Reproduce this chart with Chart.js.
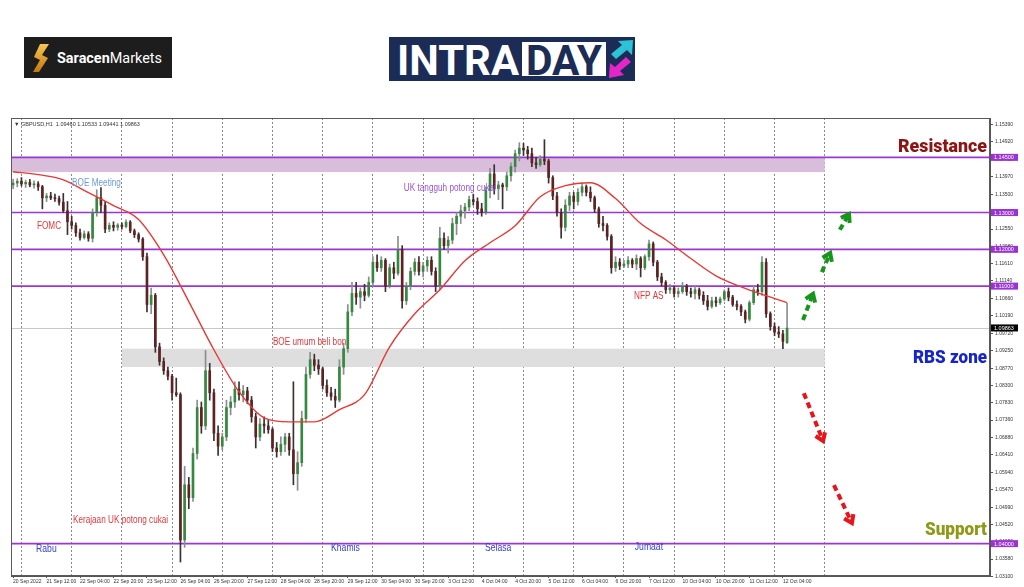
<!DOCTYPE html>
<html>
<head>
<meta charset="utf-8">
<title>GBPUSD H1 - Intraday</title>
<script src="https://cdn.jsdelivr.net/npm/chart.js@4.4.0/dist/chart.umd.min.js"></script>
<style>
    html, body { margin: 0; padding: 0; background: #fff; width: 1024px; height: 587px; overflow: hidden; }
    #wrap { position: relative; width: 1024px; height: 587px; }
    #chart { position: absolute; left: 0; top: 0; }
    .logo { position: absolute; }
</style>
</head>
<body>
<div id="wrap">
    <canvas id="chart" width="1024" height="587"></canvas>

    <!-- Saracen Markets logo -->
    <svg class="logo" style="left:24px;top:37px" width="148" height="41" viewBox="0 0 148 41">
        <defs>
            <linearGradient id="gold" x1="0" y1="0" x2="0" y2="1">
                <stop offset="0" stop-color="#f7c650"/>
                <stop offset="1" stop-color="#c27812"/>
            </linearGradient>
        </defs>
        <rect width="148" height="41" fill="#1d1d1d"/>
        <path d="M16 7 H25 L18 18 L24 21 L15 35 H9 L16 23 L10 20 Z" fill="url(#gold)"/>
        <text x="33" y="25.5" font-family="Roboto, 'Liberation Sans', sans-serif" font-size="14" fill="#fff"
              textLength="105" lengthAdjust="spacingAndGlyphs"><tspan font-weight="bold">Saracen</tspan><tspan>Markets</tspan></text>
    </svg>

    <!-- INTRADAY logo -->
    <svg class="logo" style="left:389px;top:37px" width="246" height="44" viewBox="0 0 246 44">
        <rect width="246" height="44" fill="#1b2c57"/>
        <text x="8" y="38" font-family="'Liberation Sans Narrow', Roboto, 'Liberation Sans', sans-serif" font-weight="bold"
              font-size="42" fill="#fff" textLength="122" lengthAdjust="spacingAndGlyphs">INTRA</text>
        <rect x="133" y="5" width="84" height="34" fill="#fff"/>
        <text x="137" y="38" font-family="'Liberation Sans Narrow', Roboto, 'Liberation Sans', sans-serif" font-weight="bold"
              font-size="42" fill="#1b2c57" textLength="76" lengthAdjust="spacingAndGlyphs">DAY</text>
        <polygon points="222,17 233,8 229,4 244,3 243,18 238,13 227,22" fill="#2cc3d6"/>
        <polygon points="242,25 231,34 235,38 220,41 221,26 226,30 237,20" fill="#e426c8"/>
    </svg>
</div>

<script>
// ---- Chart values (2-hour candles, GBPUSD, 20 Sep - 12 Oct 2022) ----
const opens = [
    1.1375, 1.1380, 1.1385, 1.1378, 1.1382, 1.1375, 1.1378, 1.1370, 1.1340, 1.1345,
    1.1340, 1.1338, 1.1328, 1.1305, 1.1275, 1.1265, 1.1245, 1.1232, 1.1242, 1.1230,
    1.1300, 1.1340, 1.1320, 1.1255, 1.1265, 1.1260, 1.1266, 1.1262, 1.1274, 1.1250,
    1.1240, 1.1228, 1.1180, 1.1050, 1.1075, 1.0935, 1.0895, 1.0870, 1.0855, 1.0810,
    1.0805, 1.0410, 1.0560, 1.0525, 1.0645, 1.0770, 1.0720, 1.0870, 1.0810, 1.0700,
    1.0665, 1.0690, 1.0770, 1.0785, 1.0820, 1.0805, 1.0815, 1.0790, 1.0745, 1.0690,
    1.0725, 1.0720, 1.0710, 1.0660, 1.0650, 1.0670, 1.0690, 1.0655, 1.0590, 1.0620,
    1.0740, 1.0860, 1.0900, 1.0885, 1.0875, 1.0830, 1.0810, 1.0800, 1.0790, 1.0880,
    1.0930, 1.1030, 1.1080, 1.1070, 1.1085, 1.1075, 1.1110, 1.1165, 1.1150, 1.1170,
    1.1100, 1.1150, 1.1135, 1.1200, 1.1060, 1.1100, 1.1140, 1.1165, 1.1140, 1.1155,
    1.1170, 1.1140, 1.1100, 1.1230, 1.1210, 1.1225, 1.1270, 1.1290, 1.1305, 1.1315,
    1.1335, 1.1330, 1.1310, 1.1300, 1.1360, 1.1405, 1.1365, 1.1375, 1.1370, 1.1400,
    1.1425, 1.1460, 1.1475, 1.1470, 1.1460, 1.1435, 1.1430, 1.1445, 1.1440, 1.1395,
    1.1345, 1.1300, 1.1260, 1.1320, 1.1345, 1.1330, 1.1355, 1.1370, 1.1355, 1.1340,
    1.1310, 1.1270, 1.1265, 1.1235, 1.1150, 1.1165, 1.1155, 1.1160, 1.1170, 1.1160,
    1.1175, 1.1150, 1.1180, 1.1215, 1.1165, 1.1125, 1.1110, 1.1090, 1.1095, 1.1080,
    1.1085, 1.1100, 1.1085, 1.1080, 1.1090, 1.1075, 1.1060, 1.1045, 1.1060, 1.1055,
    1.1065, 1.1085, 1.1070, 1.1050, 1.1045, 1.1030, 1.1010, 1.1055, 1.1090, 1.1085,
    1.1165, 1.1025, 1.0990, 1.0975, 1.0970, 1.0946
];
const highs = [
    1.1390, 1.1392, 1.1395, 1.1388, 1.1390, 1.1386, 1.1384, 1.1374, 1.1352, 1.1355,
    1.1350, 1.1345, 1.1352, 1.1330, 1.1290, 1.1272, 1.1255, 1.1250, 1.1248, 1.1310,
    1.1362, 1.1368, 1.1330, 1.1272, 1.1275, 1.1270, 1.1272, 1.1280, 1.1278, 1.1255,
    1.1245, 1.1232, 1.1190, 1.1095, 1.1080, 1.0945, 1.0905, 1.0880, 1.0860, 1.0850,
    1.0810, 1.0610, 1.0580, 1.0660, 1.0790, 1.0785, 1.0925, 1.0890, 1.0820, 1.0720,
    1.0700, 1.0790, 1.0800, 1.0840, 1.0840, 1.0830, 1.0825, 1.0800, 1.0755, 1.0740,
    1.0745, 1.0735, 1.0715, 1.0675, 1.0690, 1.0700, 1.0700, 1.0840, 1.0650, 1.0760,
    1.0880, 1.0920, 1.0915, 1.0900, 1.0880, 1.0845, 1.0825, 1.0820, 1.0900, 1.0945,
    1.1050, 1.1110, 1.1110, 1.1095, 1.1105, 1.1125, 1.1180, 1.1185, 1.1180, 1.1175,
    1.1160, 1.1165, 1.1235, 1.1210, 1.1110, 1.1150, 1.1175, 1.1180, 1.1165, 1.1180,
    1.1180, 1.1150, 1.1260, 1.1245, 1.1235, 1.1285, 1.1300, 1.1320, 1.1325, 1.1345,
    1.1350, 1.1340, 1.1325, 1.1370, 1.1420, 1.1430, 1.1385, 1.1380, 1.1410, 1.1435,
    1.1470, 1.1490, 1.1488, 1.1480, 1.1475, 1.1450, 1.1455, 1.1498, 1.1445, 1.1400,
    1.1355, 1.1310, 1.1335, 1.1355, 1.1355, 1.1365, 1.1380, 1.1375, 1.1370, 1.1345,
    1.1315, 1.1290, 1.1270, 1.1240, 1.1180, 1.1175, 1.1170, 1.1180, 1.1175, 1.1185,
    1.1180, 1.1185, 1.1225, 1.1220, 1.1170, 1.1135, 1.1115, 1.1105, 1.1100, 1.1095,
    1.1110, 1.1105, 1.1095, 1.1100, 1.1095, 1.1085, 1.1075, 1.1070, 1.1070, 1.1070,
    1.1090, 1.1095, 1.1075, 1.1060, 1.1050, 1.1035, 1.1060, 1.1100, 1.1105, 1.1180,
    1.1175, 1.1030, 1.1000, 1.0990, 1.0980, 1.1053
];
const lows = [
    1.1365, 1.1370, 1.1372, 1.1368, 1.1370, 1.1366, 1.1360, 1.1310, 1.1330, 1.1335,
    1.1330, 1.1320, 1.1300, 1.1240, 1.1255, 1.1235, 1.1225, 1.1228, 1.1222, 1.1220,
    1.1290, 1.1300, 1.1245, 1.1248, 1.1250, 1.1252, 1.1255, 1.1258, 1.1245, 1.1232,
    1.1220, 1.1170, 1.1030, 1.1025, 1.0920, 1.0885, 1.0860, 1.0845, 1.0790, 1.0800,
    1.0350, 1.0390, 1.0495, 1.0515, 1.0630, 1.0700, 1.0710, 1.0790, 1.0680, 1.0640,
    1.0655, 1.0680, 1.0750, 1.0770, 1.0790, 1.0785, 1.0780, 1.0730, 1.0660, 1.0680,
    1.0700, 1.0700, 1.0650, 1.0635, 1.0640, 1.0650, 1.0640, 1.0560, 1.0545, 1.0610,
    1.0730, 1.0850, 1.0870, 1.0860, 1.0820, 1.0800, 1.0790, 1.0770, 1.0785, 1.0860,
    1.0920, 1.1020, 1.1050, 1.1040, 1.1060, 1.1070, 1.1100, 1.1140, 1.1140, 1.1085,
    1.1095, 1.1120, 1.1130, 1.1040, 1.1050, 1.1090, 1.1130, 1.1130, 1.1125, 1.1140,
    1.1130, 1.1085, 1.1090, 1.1200, 1.1190, 1.1215, 1.1240, 1.1270, 1.1285, 1.1305,
    1.1320, 1.1295, 1.1290, 1.1295, 1.1340, 1.1350, 1.1335, 1.1310, 1.1360, 1.1385,
    1.1410, 1.1440, 1.1455, 1.1445, 1.1425, 1.1420, 1.1425, 1.1430, 1.1380, 1.1335,
    1.1290, 1.1230, 1.1250, 1.1305, 1.1310, 1.1320, 1.1345, 1.1345, 1.1330, 1.1300,
    1.1260, 1.1250, 1.1225, 1.1135, 1.1140, 1.1145, 1.1150, 1.1150, 1.1150, 1.1145,
    1.1125, 1.1145, 1.1170, 1.1155, 1.1115, 1.1100, 1.1080, 1.1080, 1.1070, 1.1070,
    1.1080, 1.1075, 1.1070, 1.1065, 1.1065, 1.1050, 1.1035, 1.1040, 1.1045, 1.1050,
    1.1060, 1.1060, 1.1045, 1.1035, 1.1020, 1.1000, 1.1005, 1.1050, 1.1075, 1.1075,
    1.1015, 1.0980, 1.0965, 1.0960, 1.0930, 1.0944
];
const closes = [
    1.1380, 1.1385, 1.1378, 1.1382, 1.1375, 1.1378, 1.1370, 1.1340, 1.1345, 1.1340,
    1.1338, 1.1328, 1.1305, 1.1275, 1.1265, 1.1245, 1.1232, 1.1242, 1.1230, 1.1300,
    1.1340, 1.1320, 1.1255, 1.1265, 1.1260, 1.1266, 1.1262, 1.1274, 1.1250, 1.1240,
    1.1228, 1.1180, 1.1050, 1.1075, 1.0935, 1.0895, 1.0870, 1.0855, 1.0810, 1.0805,
    1.0410, 1.0560, 1.0525, 1.0645, 1.0770, 1.0720, 1.0870, 1.0810, 1.0700, 1.0665,
    1.0690, 1.0770, 1.0785, 1.0820, 1.0805, 1.0815, 1.0790, 1.0745, 1.0690, 1.0725,
    1.0720, 1.0710, 1.0660, 1.0650, 1.0670, 1.0690, 1.0655, 1.0590, 1.0620, 1.0740,
    1.0860, 1.0900, 1.0885, 1.0875, 1.0830, 1.0810, 1.0800, 1.0790, 1.0880, 1.0930,
    1.1030, 1.1080, 1.1070, 1.1085, 1.1075, 1.1110, 1.1165, 1.1150, 1.1170, 1.1100,
    1.1150, 1.1135, 1.1200, 1.1060, 1.1100, 1.1140, 1.1165, 1.1140, 1.1155, 1.1170,
    1.1140, 1.1100, 1.1230, 1.1210, 1.1225, 1.1270, 1.1290, 1.1305, 1.1315, 1.1335,
    1.1330, 1.1310, 1.1300, 1.1360, 1.1405, 1.1365, 1.1375, 1.1370, 1.1400, 1.1425,
    1.1460, 1.1475, 1.1470, 1.1460, 1.1435, 1.1430, 1.1445, 1.1440, 1.1395, 1.1345,
    1.1300, 1.1260, 1.1320, 1.1345, 1.1330, 1.1355, 1.1370, 1.1355, 1.1340, 1.1310,
    1.1270, 1.1265, 1.1235, 1.1150, 1.1165, 1.1155, 1.1160, 1.1170, 1.1160, 1.1175,
    1.1150, 1.1180, 1.1215, 1.1165, 1.1125, 1.1110, 1.1090, 1.1095, 1.1080, 1.1085,
    1.1100, 1.1085, 1.1080, 1.1090, 1.1075, 1.1060, 1.1045, 1.1060, 1.1055, 1.1065,
    1.1085, 1.1070, 1.1050, 1.1045, 1.1030, 1.1010, 1.1055, 1.1090, 1.1085, 1.1165,
    1.1025, 1.0990, 1.0975, 1.0970, 1.0950, 1.0986
];

// moving average (red line), read every 6 bars
const maBars = [0, 6, 12, 18, 24, 30, 36, 42, 48, 54, 60, 66, 72, 78, 84, 90,
    96, 102, 108, 114, 120, 126, 132, 138, 144, 150, 156, 162, 168, 174, 180, 185];
const maValues = [1.1411, 1.1403, 1.1389, 1.1354, 1.1319, 1.1281, 1.1185, 1.1058,
    1.0927, 1.0813, 1.0742, 1.0731, 1.0731, 1.0764, 1.0805, 1.0935,
    1.1025, 1.1090, 1.1169, 1.1218, 1.1264, 1.1343, 1.1373, 1.1381,
    1.1338, 1.1270, 1.1226, 1.1175, 1.1128, 1.1098, 1.1074, 1.1055];

// x axis labels, one every 16 hours
const timeLabels = ['20 Sep 2022', '21 Sep 12:00', '22 Sep 04:00', '22 Sep 20:00', '23 Sep 12:00',
    '26 Sep 04:00', '26 Sep 20:00', '27 Sep 12:00', '28 Sep 04:00', '28 Sep 20:00', '29 Sep 12:00',
    '30 Sep 04:00', '30 Sep 20:00', '3 Oct 12:00', '4 Oct 04:00', '4 Oct 20:00', '5 Oct 12:00',
    '6 Oct 04:00', '6 Oct 20:00', '7 Oct 12:00', '10 Oct 04:00', '10 Oct 20:00', '11 Oct 12:00',
    '12 Oct 04:00'];

// price axis ticks
const priceTicks = [1.15390, 1.14920, 1.14450, 1.13970, 1.13500, 1.13030, 1.12550, 1.12080,
    1.11610, 1.11140, 1.10660, 1.10190, 1.09720, 1.09250, 1.08770, 1.08300, 1.07830, 1.07360,
    1.06880, 1.06410, 1.05940, 1.05470, 1.04990, 1.04520, 1.04050, 1.03580, 1.03100];

// drawn levels and zones
const levelPrices = [1.1450, 1.1300, 1.1200, 1.1100, 1.0400];
const lastPrice = 1.09863;
const resistanceZone = [1.1450, 1.1410];
const rbsZone = [1.0930, 1.0880];

// ---- layout (bar index units) ----
const LABEL_STEP = 8;       // 16 hours of 2h bars
const DAY_STEP = 12;        // one trading day
const FIRST_MIDNIGHT = 2;   // 21 Sep 00:00
const DAY_COUNT = 17;
const ZONE_END = 194;       // 13 Oct 00:00
const RBS_START = 26;       // 23 Sep 00:00
const X_MIN = -0.5, X_MAX = 233.5;

const labelBars = timeLabels.map((_, k) => k * LABEL_STEP);
const dayBars = Array.from({ length: DAY_COUNT }, (_, k) => FIRST_MIDNIGHT + k * DAY_STEP);

const FONT = "'Liberation Sans', Arial, sans-serif";
Chart.defaults.font.family = FONT;

// text notes on the chart (bar index, price)
const notes = [
    { text: 'BOE Meeting', bar: 14.1, price: 1.1380, color: '#6e9bd3', size: 10 },
    { text: 'FOMC', bar: 5.7, price: 1.1263, color: '#e2393b', size: 10 },
    { text: 'UK tangguh potong cukai', bar: 93.4, price: 1.1367, color: '#9a55d6', size: 10 },
    { text: 'BOE umum beli bon', bar: 62.1, price: 1.0948, color: '#e2393b', size: 10 },
    { text: 'NFP AS', bar: 148.4, price: 1.1073, color: '#e2393b', size: 10 },
    { text: 'Kerajaan UK potong cukai', bar: 14.3, price: 1.0464, color: '#e2393b', size: 10 },
    { text: 'Rabu', bar: 5.5, price: 1.0385, color: '#3440cf', size: 10.5 },
    { text: 'Khamis', bar: 76.0, price: 1.0388, color: '#3440cf', size: 10.5 },
    { text: 'Selasa', bar: 112.8, price: 1.0388, color: '#3440cf', size: 10.5 },
    { text: 'Jumaat', bar: 148.6, price: 1.0391, color: '#3440cf', size: 10.5 }
];
const bigLabels = [
    { text: 'Resistance', price: 1.1478, color: '#8c1414', width: 89 },
    { text: 'RBS zone', price: 1.0905, color: '#1624cc', width: 74 },
    { text: 'Support', price: 1.0437, color: '#8e9a16', width: 62 }
];
const arrows = [
    { from: [188.8, 1.1008], to: [191.2, 1.1079], color: '#17961b' },
    { from: [193.3, 1.1138], to: [195.3, 1.1190], color: '#17961b' },
    { from: [197.6, 1.1253], to: [199.8, 1.1296], color: '#17961b' },
    { from: [189.0, 1.0809], to: [193.6, 1.0679], color: '#e8141c' },
    { from: [196.2, 1.0559], to: [200.5, 1.0456], color: '#e8141c' }
];

function drawArrow(ctx, x1, y1, x2, y2, color) {
    const ang = Math.atan2(y2 - y1, x2 - x1);
    const len = Math.hypot(x2 - x1, y2 - y1);
    ctx.save();
    ctx.strokeStyle = color;
    ctx.lineWidth = 4;
    ctx.lineCap = 'butt';
    ctx.setLineDash([6, 4]);
    ctx.beginPath();
    ctx.moveTo(x1, y1);
    ctx.lineTo(x1 + Math.cos(ang) * (len - 3), y1 + Math.sin(ang) * (len - 3));
    ctx.stroke();
    ctx.setLineDash([]);
    ctx.lineJoin = 'miter';
    const h = 9;
    ctx.beginPath();
    ctx.moveTo(x2 - h * Math.cos(ang - 0.6), y2 - h * Math.sin(ang - 0.6));
    ctx.lineTo(x2, y2);
    ctx.lineTo(x2 - h * Math.cos(ang + 0.6), y2 - h * Math.sin(ang + 0.6));
    ctx.stroke();
    ctx.restore();
}

const overlayPlugin = {
    id: 'overlay',
    beforeDatasetsDraw(chart) {
        const { ctx, chartArea: a, scales: { x, y } } = chart;
        ctx.save();
        ctx.beginPath();
        ctx.rect(a.left, a.top, a.width, a.height);
        ctx.clip();

        // zones
        ctx.fillStyle = '#d9bedc';
        let yt = y.getPixelForValue(resistanceZone[0]);
        let yb = y.getPixelForValue(resistanceZone[1]);
        ctx.fillRect(a.left, yt, x.getPixelForValue(ZONE_END) - a.left, yb - yt);
        ctx.fillStyle = '#dedede';
        yt = y.getPixelForValue(rbsZone[0]);
        yb = y.getPixelForValue(rbsZone[1]);
        const xs = x.getPixelForValue(RBS_START);
        ctx.fillRect(xs, yt, x.getPixelForValue(ZONE_END) - xs, yb - yt);

        // last price line
        ctx.strokeStyle = '#c8c8c8';
        ctx.lineWidth = 1;
        const yl = Math.round(y.getPixelForValue(lastPrice)) + 0.5;
        ctx.beginPath();
        ctx.moveTo(a.left, yl);
        ctx.lineTo(a.right, yl);
        ctx.stroke();

        // level lines
        ctx.strokeStyle = '#9b35d4';
        ctx.lineWidth = 1.6;
        levelPrices.forEach(p => {
            const yy = y.getPixelForValue(p);
            ctx.beginPath();
            ctx.moveTo(a.left, yy);
            ctx.lineTo(a.right, yy);
            ctx.stroke();
        });
        ctx.restore();
    },
    afterDatasetsDraw(chart) {
        const { ctx, chartArea: a, scales: { x, y } } = chart;
        ctx.save();
        // notes
        ctx.textBaseline = 'middle';
        ctx.textAlign = 'left';
        notes.forEach(n => {
            ctx.save();
            ctx.translate(x.getPixelForValue(n.bar), y.getPixelForValue(n.price));
            ctx.scale(0.82, 1);
            ctx.font = n.size + 'px ' + FONT;
            ctx.fillStyle = n.color;
            ctx.fillText(n.text, 0, 0);
            ctx.restore();
        });

        // big labels on the right
        ctx.textAlign = 'right';
        bigLabels.forEach(b => {
            ctx.font = '900 19px Roboto, ' + FONT;
            ctx.fillStyle = b.color;
            ctx.fillText(b.text, a.right - 3, y.getPixelForValue(b.price), b.width);
        });

        // arrows
        arrows.forEach(ar => {
            drawArrow(ctx,
                x.getPixelForValue(ar.from[0]), y.getPixelForValue(ar.from[1]),
                x.getPixelForValue(ar.to[0]), y.getPixelForValue(ar.to[1]), ar.color);
        });
        ctx.restore();
    },
    afterDraw(chart) {
        const { ctx, chartArea: a, scales: { y } } = chart;
        ctx.save();
        // frame
        ctx.strokeStyle = '#5a5a5a';
        ctx.lineWidth = 1;
        ctx.strokeRect(a.left + 0.5, a.top + 0.5, a.width - 1, a.height - 1);

        // header line
        ctx.font = '5.5px ' + FONT;
        ctx.fillStyle = '#333';
        ctx.textBaseline = 'middle';
        ctx.textAlign = 'left';
        ctx.fillText('\u25BC GBPUSD,H1  1.09460 1.10533 1.09441 1.09863', a.left + 3, a.top + 6);

        // price boxes on the axis
        const box = (p, fill) => {
            const yy = y.getPixelForValue(p);
            ctx.fillStyle = fill;
            ctx.fillRect(a.right + 1, yy - 3.5, 27, 7);
            ctx.fillStyle = '#fff';
            ctx.fillText(p.toFixed(5), a.right + 4, yy + 0.5);
        };
        levelPrices.forEach(p => box(p, '#9a33cf'));
        box(lastPrice, '#000');
        ctx.restore();
    }
};

const idx = closes.map((_, i) => i);
const isUp = closes.map((c, i) => c >= opens[i]);

new Chart(document.getElementById('chart'), {
    type: 'bar',
    data: {
        datasets: [
            {
                type: 'line',
                data: maBars.map((b, k) => ({ x: b, y: maValues[k] })),
                borderColor: '#e53935',
                borderWidth: 1.4,
                pointRadius: 0,
                cubicInterpolationMode: 'monotone',
                order: 0
            },
            {
                data: idx.map(i => ({ x: i, y: [opens[i], closes[i]] })),
                backgroundColor: isUp.map(u => u ? '#35883f' : '#5e2222'),
                barThickness: 2,
                minBarLength: 1,
                grouped: false,
                order: 1
            },
            {
                data: idx.map(i => ({ x: i, y: [lows[i], highs[i]] })),
                backgroundColor: isUp.map(u => u ? '#8d8d8d' : '#3a3030'),
                barThickness: 1,
                grouped: false,
                order: 2
            }
        ]
    },
    options: {
        responsive: false,
        animation: false,
        devicePixelRatio: 1,
        layout: { padding: { left: 11, top: 118, right: 0, bottom: 0 } },
        plugins: { legend: { display: false }, tooltip: { enabled: false } },
        scales: {
            x: {
                type: 'linear',
                position: 'bottom',
                min: X_MIN,
                max: X_MAX,
                offset: false,
                afterBuildTicks: s => { s.ticks = labelBars.map(v => ({ value: v })); },
                afterFit: s => { s.height = 11; },
                ticks: {
                    autoSkip: false,
                    maxRotation: 0,
                    align: 'start',
                    padding: 1,
                    color: '#333',
                    font: { size: 5 },
                    callback: (v, i) => timeLabels[i]
                },
                grid: { drawOnChartArea: false, tickLength: 2, color: '#555', offset: false },
                border: { color: '#555' }
            },
            x2: {
                type: 'linear',
                position: 'bottom',
                min: X_MIN,
                max: X_MAX,
                offset: false,
                afterBuildTicks: s => { s.ticks = dayBars.map(v => ({ value: v })); },
                afterFit: s => { s.height = 0; },
                ticks: { display: false },
                grid: { color: '#8a8a8a', lineWidth: 1, drawTicks: false, offset: false },
                border: { display: false, dash: [2, 2] }
            },
            y: {
                position: 'right',
                min: 1.0312,
                max: 1.1557,
                afterBuildTicks: s => { s.ticks = priceTicks.map(v => ({ value: v })); },
                afterFit: s => { s.width = 34; },
                ticks: {
                    autoSkip: false,
                    padding: 2,
                    color: '#333',
                    font: { size: 5 },
                    callback: v => v.toFixed(5)
                },
                grid: { drawOnChartArea: false, tickLength: 3, color: '#555' },
                border: { color: '#555' }
            }
        }
    },
    plugins: [overlayPlugin]
});
</script>
</body>
</html>
